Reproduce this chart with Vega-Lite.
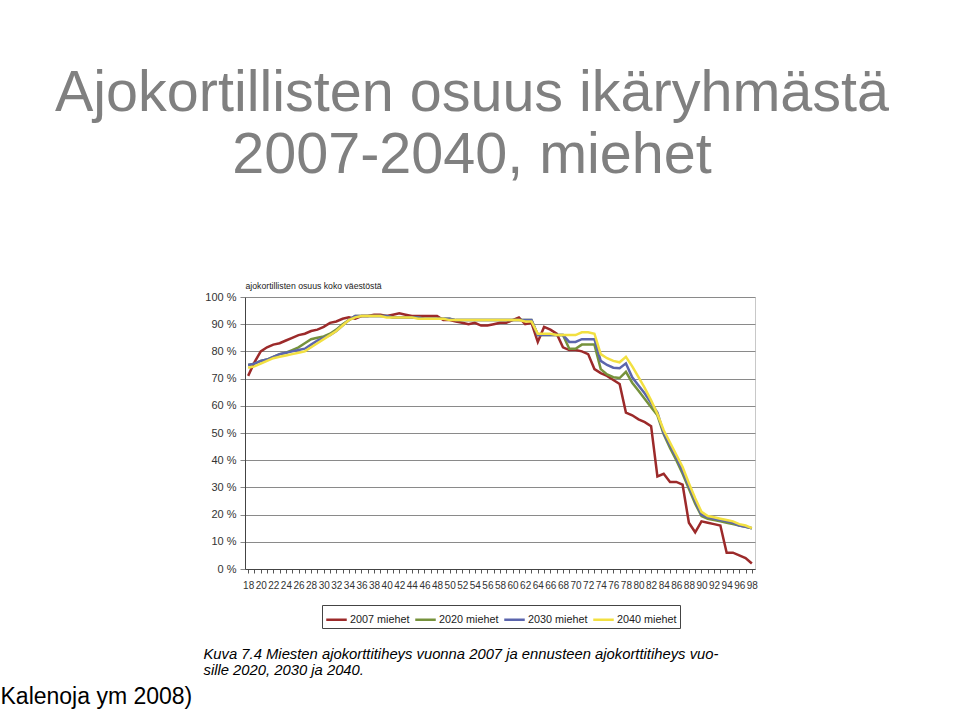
{
  "$schema": "https://vega.github.io/schema/vega-lite/v6.json",
  "width": 510,
  "height": 272,
  "autosize": {"type": "none"},
  "padding": {"left": 245, "top": 297, "right": 205, "bottom": 148},
  "background": "white",
  "config": {
    "font": "Liberation Sans",
    "view": {"stroke": "#c8c8c8"}
  },
  "title": {
    "text": ["Ajokortillisten osuus ikäryhmästä", "2007-2040, miehet"],
    "fontSize": 57.5,
    "fontWeight": "normal",
    "color": "#808080",
    "anchor": "middle",
    "frame": "group",
    "lineHeight": 62,
    "dx": -28,
    "dy": -76,
    "offset": 20
  },
  "layer": [
    {
      "data": {
        "values": [
          {"age": 18, "2007 miehet": 71, "2020 miehet": 75, "2030 miehet": 75, "2040 miehet": 74},
          {"age": 19, "2007 miehet": 76, "2020 miehet": 75.5, "2030 miehet": 75.5, "2040 miehet": 74.5},
          {"age": 20, "2007 miehet": 80, "2020 miehet": 76.5, "2030 miehet": 76.5, "2040 miehet": 75.5},
          {"age": 21, "2007 miehet": 81.5, "2020 miehet": 77, "2030 miehet": 77, "2040 miehet": 76.5},
          {"age": 22, "2007 miehet": 82.5, "2020 miehet": 78, "2030 miehet": 78, "2040 miehet": 77.5},
          {"age": 23, "2007 miehet": 83, "2020 miehet": 79, "2030 miehet": 79, "2040 miehet": 78},
          {"age": 24, "2007 miehet": 84, "2020 miehet": 79.5, "2030 miehet": 79.5, "2040 miehet": 78.5},
          {"age": 25, "2007 miehet": 85, "2020 miehet": 80.5, "2030 miehet": 80, "2040 miehet": 79},
          {"age": 26, "2007 miehet": 86, "2020 miehet": 81.5, "2030 miehet": 80.5, "2040 miehet": 79.5},
          {"age": 27, "2007 miehet": 86.5, "2020 miehet": 83, "2030 miehet": 81, "2040 miehet": 80},
          {"age": 28, "2007 miehet": 87.5, "2020 miehet": 84.5, "2030 miehet": 82.5, "2040 miehet": 81.5},
          {"age": 29, "2007 miehet": 88, "2020 miehet": 85, "2030 miehet": 84, "2040 miehet": 83},
          {"age": 30, "2007 miehet": 89, "2020 miehet": 85.5, "2030 miehet": 85, "2040 miehet": 84.5},
          {"age": 31, "2007 miehet": 90.5, "2020 miehet": 86.5, "2030 miehet": 86, "2040 miehet": 86},
          {"age": 32, "2007 miehet": 91, "2020 miehet": 88, "2030 miehet": 87.5, "2040 miehet": 87.5},
          {"age": 33, "2007 miehet": 92, "2020 miehet": 90, "2030 miehet": 89.5, "2040 miehet": 89.5},
          {"age": 34, "2007 miehet": 92.5, "2020 miehet": 91.5, "2030 miehet": 91.5, "2040 miehet": 91.5},
          {"age": 35, "2007 miehet": 92, "2020 miehet": 93, "2030 miehet": 93, "2040 miehet": 92.5},
          {"age": 36, "2007 miehet": 93, "2020 miehet": 93, "2030 miehet": 93, "2040 miehet": 93},
          {"age": 37, "2007 miehet": 93, "2020 miehet": 93, "2030 miehet": 93, "2040 miehet": 93},
          {"age": 38, "2007 miehet": 93.5, "2020 miehet": 93, "2030 miehet": 93, "2040 miehet": 93},
          {"age": 39, "2007 miehet": 93.5, "2020 miehet": 93, "2030 miehet": 93, "2040 miehet": 93},
          {"age": 40, "2007 miehet": 93, "2020 miehet": 93, "2030 miehet": 93, "2040 miehet": 92.5},
          {"age": 41, "2007 miehet": 93.5, "2020 miehet": 92.5, "2030 miehet": 92.5, "2040 miehet": 92.5},
          {"age": 42, "2007 miehet": 94, "2020 miehet": 92.5, "2030 miehet": 92.5, "2040 miehet": 92.5},
          {"age": 43, "2007 miehet": 93.5, "2020 miehet": 92.5, "2030 miehet": 92.5, "2040 miehet": 92.5},
          {"age": 44, "2007 miehet": 93, "2020 miehet": 92.5, "2030 miehet": 92.5, "2040 miehet": 92.5},
          {"age": 45, "2007 miehet": 93, "2020 miehet": 92.5, "2030 miehet": 92.5, "2040 miehet": 92},
          {"age": 46, "2007 miehet": 93, "2020 miehet": 92, "2030 miehet": 92, "2040 miehet": 92},
          {"age": 47, "2007 miehet": 93, "2020 miehet": 92, "2030 miehet": 92, "2040 miehet": 92},
          {"age": 48, "2007 miehet": 93, "2020 miehet": 92, "2030 miehet": 92, "2040 miehet": 92},
          {"age": 49, "2007 miehet": 91.5, "2020 miehet": 92, "2030 miehet": 92, "2040 miehet": 92},
          {"age": 50, "2007 miehet": 91.5, "2020 miehet": 92, "2030 miehet": 92, "2040 miehet": 91.5},
          {"age": 51, "2007 miehet": 91, "2020 miehet": 91.5, "2030 miehet": 91.5, "2040 miehet": 91.5},
          {"age": 52, "2007 miehet": 90.5, "2020 miehet": 91.5, "2030 miehet": 91.5, "2040 miehet": 91.5},
          {"age": 53, "2007 miehet": 90, "2020 miehet": 91.5, "2030 miehet": 91.5, "2040 miehet": 91.5},
          {"age": 54, "2007 miehet": 90.5, "2020 miehet": 91.5, "2030 miehet": 91.5, "2040 miehet": 91.5},
          {"age": 55, "2007 miehet": 89.5, "2020 miehet": 91.5, "2030 miehet": 91.5, "2040 miehet": 91.5},
          {"age": 56, "2007 miehet": 89.5, "2020 miehet": 91.5, "2030 miehet": 91.5, "2040 miehet": 91.5},
          {"age": 57, "2007 miehet": 90, "2020 miehet": 91.5, "2030 miehet": 91.5, "2040 miehet": 91.5},
          {"age": 58, "2007 miehet": 90.5, "2020 miehet": 91.5, "2030 miehet": 91.5, "2040 miehet": 91.5},
          {"age": 59, "2007 miehet": 90.5, "2020 miehet": 91.5, "2030 miehet": 91.5, "2040 miehet": 91.5},
          {"age": 60, "2007 miehet": 91.5, "2020 miehet": 91.5, "2030 miehet": 91.5, "2040 miehet": 91.5},
          {"age": 61, "2007 miehet": 92.5, "2020 miehet": 91.5, "2030 miehet": 91.5, "2040 miehet": 91.5},
          {"age": 62, "2007 miehet": 90, "2020 miehet": 91.5, "2030 miehet": 91.5, "2040 miehet": 91},
          {"age": 63, "2007 miehet": 90.5, "2020 miehet": 91.5, "2030 miehet": 91.5, "2040 miehet": 91},
          {"age": 64, "2007 miehet": 83.5, "2020 miehet": 86, "2030 miehet": 86, "2040 miehet": 86.5},
          {"age": 65, "2007 miehet": 89, "2020 miehet": 86, "2030 miehet": 86, "2040 miehet": 86.5},
          {"age": 66, "2007 miehet": 88, "2020 miehet": 86, "2030 miehet": 86, "2040 miehet": 86.5},
          {"age": 67, "2007 miehet": 86.5, "2020 miehet": 86, "2030 miehet": 86, "2040 miehet": 86},
          {"age": 68, "2007 miehet": 81.5, "2020 miehet": 86, "2030 miehet": 86, "2040 miehet": 86},
          {"age": 69, "2007 miehet": 80.5, "2020 miehet": 81, "2030 miehet": 83.5, "2040 miehet": 86},
          {"age": 70, "2007 miehet": 80.5, "2020 miehet": 81, "2030 miehet": 83.5, "2040 miehet": 86},
          {"age": 71, "2007 miehet": 80, "2020 miehet": 82.5, "2030 miehet": 84.5, "2040 miehet": 87},
          {"age": 72, "2007 miehet": 79, "2020 miehet": 82.5, "2030 miehet": 84.5, "2040 miehet": 87},
          {"age": 73, "2007 miehet": 73.5, "2020 miehet": 82.5, "2030 miehet": 84.5, "2040 miehet": 86.5},
          {"age": 74, "2007 miehet": 72, "2020 miehet": 73.5, "2030 miehet": 76.5, "2040 miehet": 79},
          {"age": 75, "2007 miehet": 71, "2020 miehet": 71.5, "2030 miehet": 75, "2040 miehet": 77.5},
          {"age": 76, "2007 miehet": 69.5, "2020 miehet": 70.5, "2030 miehet": 74, "2040 miehet": 76.5},
          {"age": 77, "2007 miehet": 68, "2020 miehet": 70.2, "2030 miehet": 73.8, "2040 miehet": 76},
          {"age": 78, "2007 miehet": 57.5, "2020 miehet": 72.5, "2030 miehet": 75.6, "2040 miehet": 78},
          {"age": 79, "2007 miehet": 56.5, "2020 miehet": 68.5, "2030 miehet": 70.5, "2040 miehet": 74.5},
          {"age": 80, "2007 miehet": 55, "2020 miehet": 65.5, "2030 miehet": 67.5, "2040 miehet": 70.5},
          {"age": 81, "2007 miehet": 54, "2020 miehet": 62.5, "2030 miehet": 64.5, "2040 miehet": 66.5},
          {"age": 82, "2007 miehet": 52.5, "2020 miehet": 59.5, "2030 miehet": 61, "2040 miehet": 62},
          {"age": 83, "2007 miehet": 34, "2020 miehet": 56.5, "2030 miehet": 57.5, "2040 miehet": 57},
          {"age": 84, "2007 miehet": 35, "2020 miehet": 49.5, "2030 miehet": 50, "2040 miehet": 51},
          {"age": 85, "2007 miehet": 32, "2020 miehet": 44.5, "2030 miehet": 45.5, "2040 miehet": 46.5},
          {"age": 86, "2007 miehet": 32, "2020 miehet": 40, "2030 miehet": 41, "2040 miehet": 42},
          {"age": 87, "2007 miehet": 31, "2020 miehet": 35, "2030 miehet": 36, "2040 miehet": 37.5},
          {"age": 88, "2007 miehet": 17, "2020 miehet": 29.5, "2030 miehet": 30.5, "2040 miehet": 31.5},
          {"age": 89, "2007 miehet": 13.5, "2020 miehet": 24, "2030 miehet": 25, "2040 miehet": 26},
          {"age": 90, "2007 miehet": 17.5, "2020 miehet": 19.5, "2030 miehet": 20, "2040 miehet": 21},
          {"age": 91, "2007 miehet": 17, "2020 miehet": 18.5, "2030 miehet": 19, "2040 miehet": 19.5},
          {"age": 92, "2007 miehet": 16.5, "2020 miehet": 18, "2030 miehet": 18.5, "2040 miehet": 19},
          {"age": 93, "2007 miehet": 16, "2020 miehet": 17.5, "2030 miehet": 18, "2040 miehet": 18.5},
          {"age": 94, "2007 miehet": 6, "2020 miehet": 17, "2030 miehet": 17.5, "2040 miehet": 18},
          {"age": 95, "2007 miehet": 6, "2020 miehet": 16.5, "2030 miehet": 17, "2040 miehet": 17.5},
          {"age": 96, "2007 miehet": 5, "2020 miehet": 16, "2030 miehet": 16, "2040 miehet": 16.5},
          {"age": 97, "2007 miehet": 4, "2020 miehet": 15.5, "2030 miehet": 15.5, "2040 miehet": 16},
          {"age": 98, "2007 miehet": 2, "2020 miehet": 15, "2030 miehet": 15, "2040 miehet": 15}
        ]
      },
      "transform": [
        {"fold": ["2007 miehet", "2020 miehet", "2030 miehet", "2040 miehet"], "as": ["series", "value"]}
      ],
      "mark": {"type": "line", "strokeWidth": 2.5, "interpolate": "linear"},
      "encoding": {
        "x": {
          "field": "age",
          "type": "quantitative",
          "scale": {"domain": [17.5, 98.5], "nice": false, "zero": false},
          "axis": {
            "values": [18,19,20,21,22,23,24,25,26,27,28,29,30,31,32,33,34,35,36,37,38,39,40,41,42,43,44,45,46,47,48,49,50,51,52,53,54,55,56,57,58,59,60,61,62,63,64,65,66,67,68,69,70,71,72,73,74,75,76,77,78,79,80,81,82,83,84,85,86,87,88,89,90,91,92,93,94,95,96,97,98],
            "labelExpr": "datum.value % 2 == 0 ? datum.label : ''",
            "labelOverlap": false,
            "labelAngle": 0,
            "labelFontSize": 10,
            "labelColor": "#333333",
            "labelPadding": 7,
            "tickSize": 4,
            "tickColor": "#555555",
            "domainColor": "#444444",
            "grid": false,
            "title": ["Kuva 7.4 Miesten ajokorttitiheys vuonna 2007 ja ennusteen ajokorttitiheys vuo-", "sille 2020, 2030 ja 2040."],
            "titleFontStyle": "italic",
            "titleFontWeight": "normal",
            "titleFontSize": 14.8,
            "titleColor": "#000000",
            "titleAlign": "left",
            "titleAnchor": "start",
            "titleBaseline": "alphabetic",
            "titleX": -42,
            "titleY": 89,
            "titleLineHeight": 16.5
          }
        },
        "y": {
          "field": "value",
          "type": "quantitative",
          "scale": {"domain": [0, 100], "nice": false},
          "axis": {
            "values": [0, 10, 20, 30, 40, 50, 60, 70, 80, 90, 100],
            "labelExpr": "datum.value + ' %'",
            "labelFontSize": 11,
            "labelColor": "#333333",
            "labelPadding": 4,
            "tickSize": 5,
            "tickColor": "#888888",
            "domainColor": "#444444",
            "grid": true,
            "gridColor": "#8a8a8a",
            "gridWidth": 1,
            "title": "ajokortillisten osuus koko väestöstä",
            "titleAngle": 0,
            "titleAlign": "left",
            "titleBaseline": "alphabetic",
            "titleX": 0,
            "titleY": -9,
            "titleFontSize": 8.7,
            "titleFontWeight": "normal",
            "titleColor": "#222222"
          }
        },
        "color": {
          "field": "series",
          "type": "nominal",
          "scale": {
            "domain": ["2007 miehet", "2020 miehet", "2030 miehet", "2040 miehet"],
            "range": ["#9c2a2a", "#76923c", "#5b65ad", "#f2e041"]
          },
          "legend": {
            "orient": "none",
            "legendX": 77,
            "legendY": 308,
            "direction": "horizontal",
            "title": null,
            "strokeColor": "#444444",
            "padding": 3,
            "symbolType": "stroke",
            "symbolSize": 420,
            "symbolStrokeWidth": 2.5,
            "labelFontSize": 10.8,
            "labelColor": "#222222",
            "labelOffset": 2,
            "columnPadding": 0
          }
        }
      }
    },
    {
      "data": {"values": []},
      "mark": "rule",
      "encoding": {
        "y": {
          "field": "value",
          "type": "quantitative",
          "axis": {
            "orient": "right",
            "labels": false,
            "ticks": false,
            "domain": false,
            "grid": false,
            "title": "Kalenoja ym 2008)",
            "titleAngle": 0,
            "titleAlign": "left",
            "titleBaseline": "alphabetic",
            "titleX": -755,
            "titleY": 406,
            "titleFontSize": 23,
            "titleFontWeight": "normal",
            "titleColor": "#000000"
          }
        }
      }
    }
  ],
  "resolve": {"axis": {"y": "independent"}}
}
